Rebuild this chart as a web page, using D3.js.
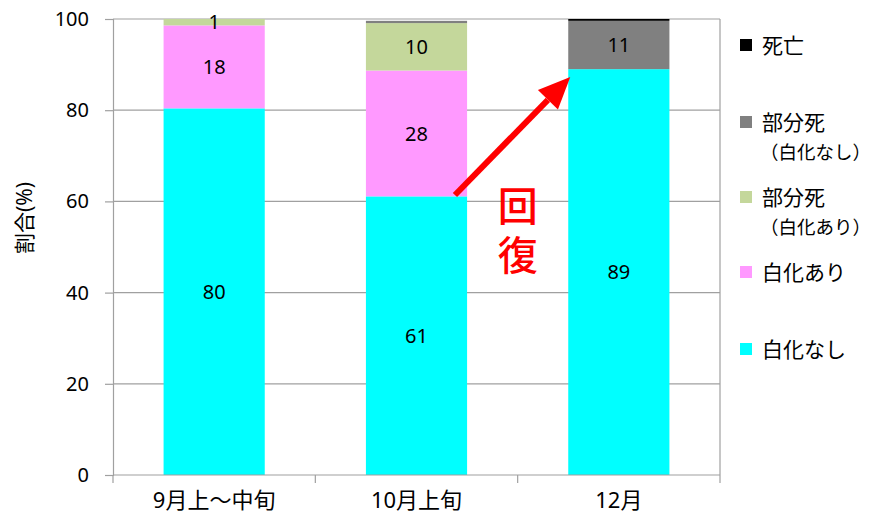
<!DOCTYPE html>
<html>
<head>
<meta charset="utf-8">
<script src="https://cdn.jsdelivr.net/npm/d3@7"></script>
<style>
  body { margin: 0; background: #fff; }
  svg { display: block; font-family: "Noto Sans", "Noto Sans CJK JP", sans-serif; }
</style>
</head>
<body>
<svg id="chart" width="874" height="513"></svg>
<script>
// categories and stacked series (percent)
const categories = ['9月上〜中旬', '10月上旬', '12月'];
const seriesKeys = ['白化なし', '白化あり', '部分死（白化あり）', '部分死（白化なし）', '死亡'];
const noBleach = [80.4, 61.1, 89.0];
const bleached = [18.2, 27.6, 0];
const partDeadBleached = [1.4, 10.4, 0];
const partDeadNoBleach = [0, 0.5, 10.6];
const dead = [0, 0, 0.4];
const yTicks = [0, 20, 40, 60, 80, 100];
const colors = ['#00ffff', '#ff99ff', '#c4d79b', '#808080', '#000000'];

// legend, top to bottom
const legendItems = [
  { lines: ['死亡'], color: '#000000' },
  { lines: ['部分死', '（白化なし）'], color: '#808080' },
  { lines: ['部分死', '（白化あり）'], color: '#c4d79b' },
  { lines: ['白化あり'], color: '#ff99ff' },
  { lines: ['白化なし'], color: '#00ffff' },
];

const rows = categories.map((c, i) => ({
  cat: c,
  [seriesKeys[0]]: noBleach[i],
  [seriesKeys[1]]: bleached[i],
  [seriesKeys[2]]: partDeadBleached[i],
  [seriesKeys[3]]: partDeadNoBleach[i],
  [seriesKeys[4]]: dead[i],
}));

const margin = { left: 113, right: 154, top: 19, bottom: 38 };
const width = 874, height = 513;
const innerW = width - margin.left - margin.right;
const innerH = height - margin.top - margin.bottom;

const svg = d3.select('#chart');
const g = svg.append('g').attr('transform', `translate(${margin.left},${margin.top})`);

const x = d3.scaleBand().domain(categories).range([0, innerW])
  .paddingInner(0.5).paddingOuter(0.25);
const y = d3.scaleLinear().domain([0, 100]).range([innerH, 0]);
const color = d3.scaleOrdinal().domain(seriesKeys).range(colors);

// gridlines
g.selectAll('.grid').data(yTicks.filter(t => t > 0)).enter().append('line')
  .attr('x1', 0).attr('x2', innerW)
  .attr('y1', d => y(d)).attr('y2', d => y(d))
  .attr('stroke', '#a0a0a0').attr('stroke-width', 1.2);

// right border of plot area
g.append('line').attr('x1', innerW).attr('x2', innerW).attr('y1', 0).attr('y2', innerH)
  .attr('stroke', '#a0a0a0').attr('stroke-width', 1.2);

// bars
const stack = d3.stack().keys(seriesKeys)(rows);
const layer = g.selectAll('.layer').data(stack).enter().append('g')
  .attr('fill', d => color(d.key));
layer.selectAll('rect').data(d => d).enter().append('rect')
  .attr('x', d => x(d.data.cat))
  .attr('width', x.bandwidth())
  .attr('y', d => y(d[1]))
  .attr('height', d => Math.max(0, y(d[0]) - y(d[1])));

// data labels (skip tiny segments)
const labels = [];
stack.forEach(s => s.forEach(d => {
  const v = d[1] - d[0];
  if (v >= 1) labels.push({ cat: d.data.cat, mid: (d[0] + d[1]) / 2, v });
}));
g.selectAll('.lbl').data(labels).enter().append('text')
  .attr('x', d => x(d.cat) + x.bandwidth() / 2)
  .attr('y', d => y(d.mid))
  .attr('dy', '0.36em')
  .attr('text-anchor', 'middle')
  .attr('font-size', 20)
  .attr('fill', '#000')
  .text(d => Math.round(d.v));

// y axis
const yAxis = g.append('g')
  .call(d3.axisLeft(y).tickValues(yTicks).tickSize(8).tickPadding(16));
yAxis.select('.domain').attr('stroke', '#a0a0a0').attr('stroke-width', 1.2);
yAxis.selectAll('.tick line').attr('stroke', '#a0a0a0').attr('stroke-width', 1.2);
yAxis.selectAll('text').attr('font-size', 20).attr('fill', '#000')
  .style('font-family', '"Noto Sans", sans-serif');

// x axis, ticks at category boundaries
const xAxisG = g.append('g').attr('transform', `translate(0,${innerH})`);
xAxisG.append('line').attr('x1', 0).attr('x2', innerW)
  .attr('stroke', '#a0a0a0').attr('stroke-width', 1.2);
const bounds = d3.range(categories.length + 1).map(i => i * x.step());
xAxisG.selectAll('.xt').data(bounds).enter().append('line')
  .attr('x1', d => d).attr('x2', d => d).attr('y1', 0).attr('y2', 8)
  .attr('stroke', '#a0a0a0').attr('stroke-width', 1.2);
xAxisG.selectAll('.xl').data(categories).enter().append('text')
  .attr('x', d => x(d) + x.bandwidth() / 2)
  .attr('y', 25)
  .attr('dy', '0.36em')
  .attr('text-anchor', 'middle')
  .attr('font-size', 22)
  .attr('fill', '#000')
  .text(d => d);

// y axis title
svg.append('text')
  .attr('transform', `translate(24,218) rotate(-90)`)
  .attr('dy', '0.36em')
  .attr('text-anchor', 'middle')
  .attr('font-size', 21)
  .attr('fill', '#000')
  .text('割合(%)');

// recovery arrow: from the 10月 bleached-free top to the 12月 top
const arrowFrom = [x('10月上旬') + x.bandwidth() * 0.88, y(61.4)];
const arrowTo = [x('12月') + x.bandwidth() * 0.02, y(87.3)];
const ang = Math.atan2(arrowTo[1] - arrowFrom[1], arrowTo[0] - arrowFrom[0]);
const headLen = 32, headHalf = 14;
const base = [arrowTo[0] - headLen * Math.cos(ang), arrowTo[1] - headLen * Math.sin(ang)];
g.append('line')
  .attr('x1', arrowFrom[0]).attr('y1', arrowFrom[1])
  .attr('x2', base[0]).attr('y2', base[1])
  .attr('stroke', '#ff0000').attr('stroke-width', 6);
g.append('path')
  .attr('d', d3.line()([
    arrowTo,
    [base[0] + headHalf * Math.sin(ang), base[1] - headHalf * Math.cos(ang)],
    [base[0] - headHalf * Math.sin(ang), base[1] + headHalf * Math.cos(ang)],
  ]) + 'Z')
  .attr('fill', '#ff0000');

// 回復 label, written vertically
const recX = (x('10月上旬') + x.bandwidth() + x('12月')) / 2;
g.append('text')
  .attr('x', recX)
  .attr('y', y(59) - 20)
  .style('writing-mode', 'vertical-rl')
  .style('letter-spacing', '9px')
  .style('font-family', '"Noto Sans CJK JP", sans-serif')
  .attr('font-size', 40)
  .attr('font-weight', 500)
  .attr('fill', '#ff0000')
  .text('回復');

// legend
const legendY = [45, 122, 197, 272, 349];
const lg = svg.append('g');
legendItems.forEach((item, i) => {
  const row = lg.append('g').attr('transform', `translate(740,${legendY[i]})`);
  row.append('rect').attr('x', 0).attr('y', -6).attr('width', 12).attr('height', 12)
    .attr('fill', item.color);
  item.lines.forEach((t, j) => {
    // the bracketed second line is a bit smaller so it fits the window edge
    const paren = t.startsWith('（');
    row.append('text')
      .attr('x', paren ? 20 : 22).attr('y', j * 30)
      .attr('dy', '0.36em')
      .attr('font-size', paren ? 18.5 : 21)
      .attr('fill', '#000')
      .style('font-family', '"Noto Sans CJK JP", sans-serif')
      .text(t);
  });
});
</script>
</body>
</html>
